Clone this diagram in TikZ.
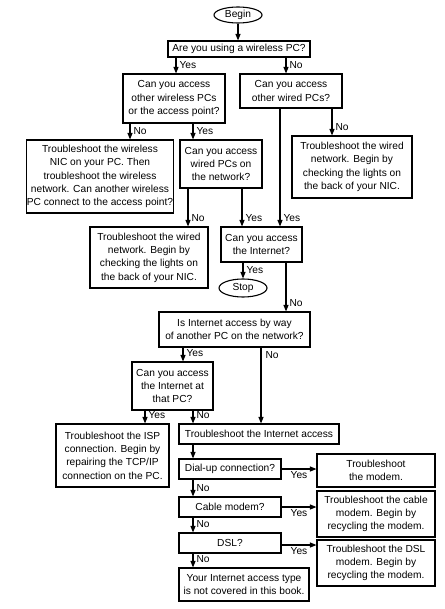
\documentclass[tikz,border=0pt]{standalone}
\usepackage{fontspec}
\setmainfont{Liberation Sans}
\usetikzlibrary{arrows.meta,shapes.geometric}
\tikzset{
  bx/.style={draw, line width=1.1pt, inner sep=0pt, align=center, font=\fontsize{10.2}{13.3}\selectfont},
  ov/.style={draw, ellipse, line width=1.1pt, inner sep=0pt, font=\fontsize{10.2}{13.3}\selectfont},
  arr/.style={line width=1.1pt, -{Triangle[length=6.5pt,width=5pt]}},
  lab/.style={anchor=west, inner sep=1pt, xshift=2pt, yshift=8pt, font=\fontsize{10.2}{12}\selectfont},
  labs/.style={anchor=west, inner sep=1pt, xshift=3pt, yshift=-7pt, font=\fontsize{10.2}{12}\selectfont},
  labh/.style={anchor=north, inner sep=1pt, yshift=-1pt, font=\fontsize{10.2}{12}\selectfont}
}
\begin{document}
\begin{tikzpicture}[x=1pt,y=-1pt]
\useasboundingbox (0,0) rectangle (444,609);
% nodes
\node[ov, minimum width=48pt, minimum height=16pt] (begin) at (238,15) {Begin};
\node[bx, minimum width=142pt, minimum height=16pt] (q1) at (239,49) {Are you using a wireless PC?};
\node[bx, minimum width=102pt, minimum height=49pt] (wl) at (174,98.5) {Can you access\\other wireless PCs\\or the access point?};
\node[bx, minimum width=102pt, minimum height=34pt] (wd) at (291,91) {Can you access\\other wired PCs?};
\node[bx, minimum width=146pt, minimum height=73pt] (tw) at (100,176.5) {Troubleshoot the wireless\\NIC on your PC. Then\\troubleshoot the wireless\\network. Can another wireless\\PC connect to the access point?};
\node[bx, minimum width=82pt, minimum height=48pt] (wpc) at (221,164) {Can you access\\wired PCs on\\the network?};
\node[bx, minimum width=120pt, minimum height=62pt] (trw) at (352,167) {Troubleshoot the wired\\network. Begin by\\checking the lights on\\the back of your NIC.};
\node[bx, minimum width=118pt, minimum height=61pt] (tlw) at (149,257.5) {Troubleshoot the wired\\network. Begin by\\checking the lights on\\the back of your NIC.};
\node[bx, minimum width=81pt, minimum height=35pt] (inet) at (261.5,244.5) {Can you access\\the Internet?};
\node[ov, minimum width=48pt, minimum height=18pt] (stop) at (243,288) {Stop};
\node[bx, minimum width=151pt, minimum height=35pt] (ia) at (234.5,329.5) {Is Internet access by way\\of another PC on the network?};
\node[bx, minimum width=81pt, minimum height=48pt] (tpc) at (172.5,386) {Can you access\\the Internet at\\that PC?};
\node[bx, minimum width=113pt, minimum height=63pt] (isp) at (112.5,455.5) {Troubleshoot the ISP\\connection. Begin by\\repairing the TCP/IP\\connection on the PC.};
\node[bx, minimum width=160pt, minimum height=20pt] (tia) at (259,434) {Troubleshoot the Internet access};
\node[bx, minimum width=102pt, minimum height=20pt] (dial) at (230,469) {Dial-up connection?};
\node[bx, minimum width=118pt, minimum height=33pt] (tm) at (376,470.5) {Troubleshoot\\the modem.};
\node[bx, minimum width=102pt, minimum height=20pt] (cable) at (230,507) {Cable modem?};
\node[bx, minimum width=118pt, minimum height=46pt] (tcm) at (376,514) {Troubleshoot the cable\\modem. Begin by\\recycling the modem.};
\node[bx, minimum width=102pt, minimum height=20pt] (dsl) at (230,543) {DSL?};
\node[bx, minimum width=118pt, minimum height=46pt] (tdsl) at (376,563) {Troubleshoot the DSL\\modem. Begin by\\recycling the modem.};
\node[bx, minimum width=130pt, minimum height=33pt] (nc) at (244,584.5) {Your Internet access type\\is not covered in this book.};
% column coordinates
\coordinate (xa) at (176,0);
\coordinate (xb) at (286,0);
\coordinate (xc) at (130,0);
\coordinate (xd) at (193,0);
\coordinate (xe) at (332,0);
\coordinate (xf) at (280,0);
\coordinate (xg) at (188,0);
\coordinate (xh) at (242,0);
\coordinate (xi) at (183,0);
\coordinate (xj) at (261,0);
\coordinate (xk) at (145,0);
% connectors
\draw[arr] (begin.south) -- (begin.south |- q1.north);
\draw[arr] (q1.south -| xa) -- node[lab, at end]{Yes} (wl.north -| xa);
\draw[arr] (q1.south -| xb) -- node[lab, at end]{No} (wd.north -| xb);
\draw[arr] (wl.south -| xc) -- node[lab, at end]{No} (tw.north -| xc);
\draw[arr] (wl.south -| xd) -- node[lab, at end]{Yes} (wpc.north -| xd);
\draw[arr] (wd.south -| xe) -- node[lab, at end]{No} (trw.north -| xe);
\draw[arr] (wd.south -| xf) -- node[lab, at end]{Yes} (inet.north -| xf);
\draw[arr] (wpc.south -| xg) -- node[lab, at end]{No} (tlw.north -| xg);
\draw[arr] (wpc.south -| xh) -- node[lab, at end]{Yes} (inet.north -| xh);
\draw[arr] (inet.south -| stop.north) -- node[lab, at end]{Yes} (stop.north);
\draw[arr] (inet.south -| xb) -- node[lab, at end]{No} (ia.north -| xb);
\draw[arr] (ia.south -| xi) -- node[lab, at end]{Yes} (tpc.north -| xi);
\draw[arr] (ia.south -| xj) -- node[labs, at start]{No} (tia.north -| xj);
\draw[arr] (tpc.south -| xk) -- node[lab, at end]{Yes} (isp.north -| xk);
\draw[arr] (tpc.south -| xd) -- node[lab, at end]{No} (tia.north -| xd);
\draw[arr] (tia.south -| xd) -- (dial.north -| xd);
\draw[arr] (dial.south -| xd) -- node[lab, at end]{No} (cable.north -| xd);
\draw[arr] (cable.south -| xd) -- node[lab, at end]{No} (dsl.north -| xd);
\draw[arr] (dsl.south -| xd) -- node[lab, at end]{No} (nc.north -| xd);
\draw[arr] (dial.east) -- node[labh, midway]{Yes} (dial.east -| tm.west);
\draw[arr] (cable.east) -- node[labh, midway]{Yes} (cable.east -| tcm.west);
\draw[arr] ([yshift=-2pt]dsl.east) -- node[labh, midway]{Yes} ([yshift=-2pt]dsl.east -| tdsl.west);
\end{tikzpicture}
\end{document}
